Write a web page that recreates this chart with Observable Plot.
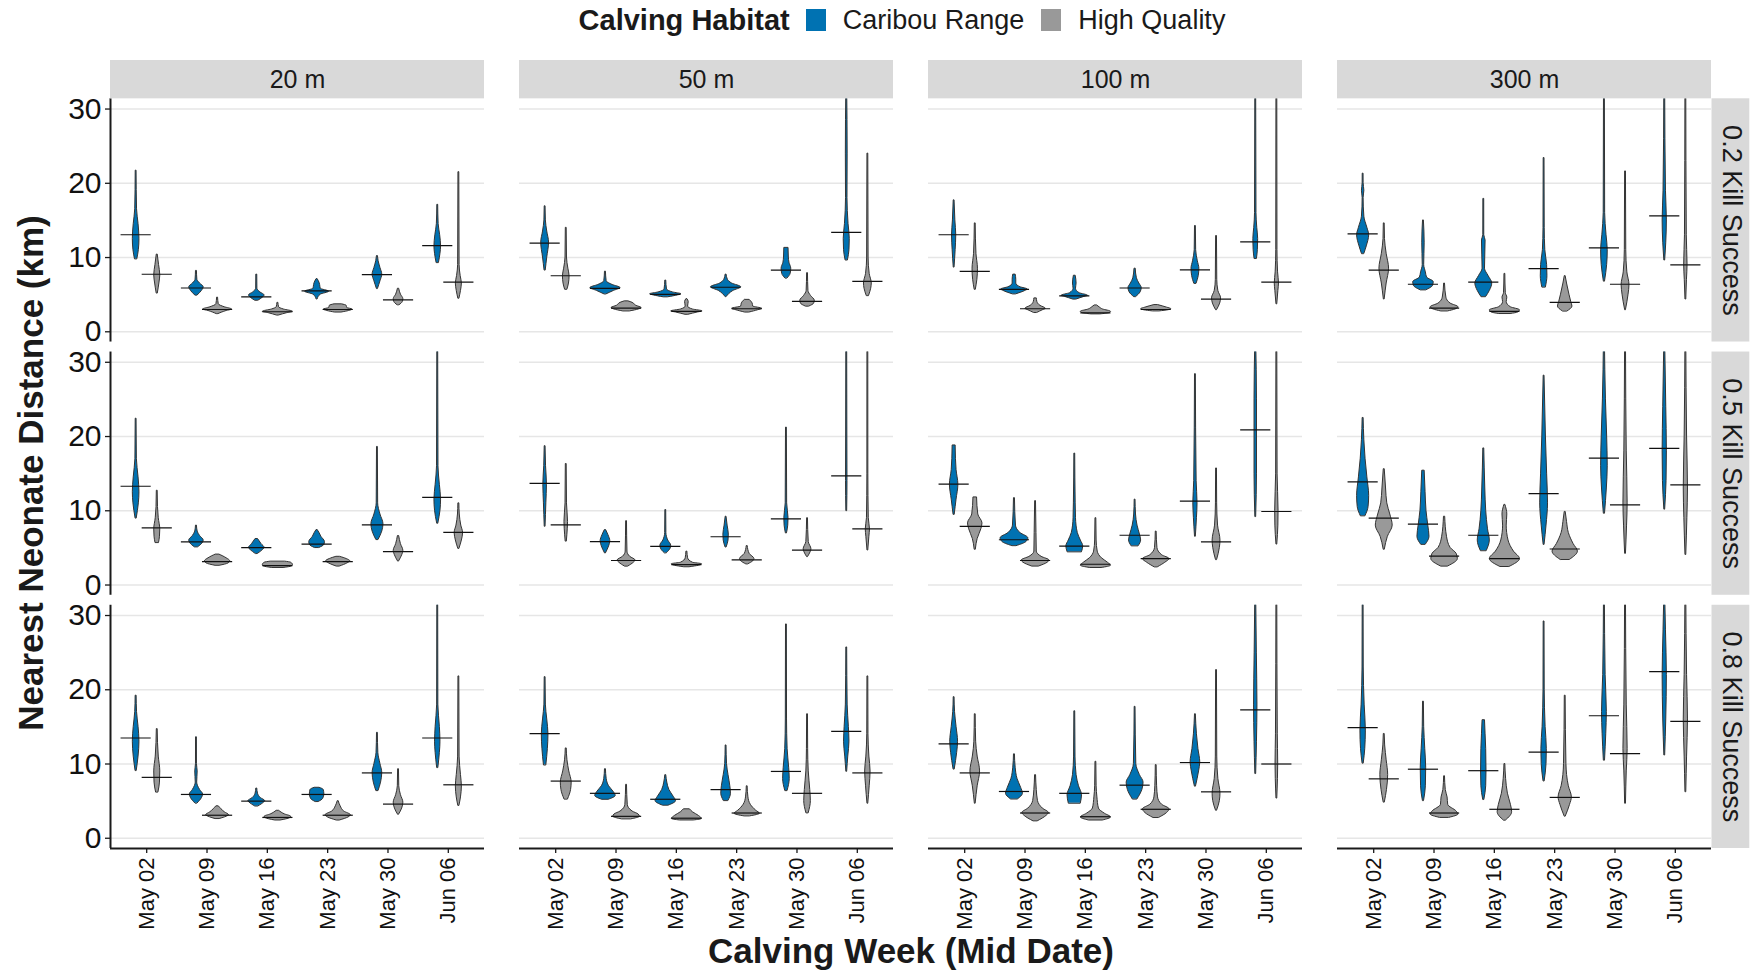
<!DOCTYPE html>
<html>
<head>
<meta charset="utf-8">
<script src="https://cdn.jsdelivr.net/npm/d3@7"></script>
<script src="https://cdn.jsdelivr.net/npm/@observablehq/plot@0.6"></script>
<style>
  body { margin: 0; background: #fff; }
  #wrap { position: relative; width: 1756px; height: 972px; background: #fff;
          font-family: "Liberation Sans", Arial, sans-serif; color: #1a1a1a; overflow: hidden; }
  #plot { position: absolute; left: 0; top: 0; }
  #legend { position: absolute; left: 110px; width: 1601px; top: 4px; height: 32px;
            display: flex; justify-content: center; align-items: center; }
  #legend .title { font-weight: bold; font-size: 29px; margin-right: 16px; }
  #legend .sw { width: 20px; height: 22px; margin-right: 17px; }
  #legend .lab { font-size: 27px; margin-right: 17px; }
  #ytitle { position: absolute; left: 31px; top: 473px; transform: translate(-50%, -50%) rotate(-90deg);
            white-space: nowrap; font-weight: bold; font-size: 35px; }
  #xtitle { position: absolute; left: 911px; top: 951px; transform: translate(-50%, -50%);
            white-space: nowrap; font-weight: bold; font-size: 35px; }
</style>
</head>
<body>
<div id="wrap">
  <div id="plot"></div>
  <div id="legend"></div>
  <div id="ytitle">Nearest Neonate Distance (km)</div>
  <div id="xtitle">Calving Week (Mid Date)</div>
</div>
<script>
// Facet categories and tick labels
const weeks = ["May 02", "May 09", "May 16", "May 23", "May 30", "Jun 06"];
const distances = ["20 m", "50 m", "100 m", "300 m"];
const kills = ["0.2 Kill Success", "0.5 Kill Success", "0.8 Kill Success"];
const habitats = ["Caribou Range", "High Quality"];
const habitatColors = ["#0072B2", "#999999"];

// Violins per distance: one row per kill-success level; each row lists the
// weeks in order, Caribou Range then High Quality.
// Each violin: [median km, [[km, half-width], ...] from bottom to top]
const v20 = [
  [
    [13.07, [[9.8,0.02],[11,0.045],[12.5,0.055],[14.5,0.04],[16.5,0.015],[21.7,0.007]]],
    [7.75, [[5.2,0.01],[6.5,0.035],[7.6,0.05],[9,0.03],[10.4,0.008]]],
    [5.9, [[4.9,0.02],[5.5,0.09],[6.0,0.12],[6.5,0.06],[7.0,0.015],[8.2,0.008]]],
    [3.0, [[2.4,0.02],[2.8,0.15],[3.0,0.24],[3.3,0.12],[3.7,0.02],[4.6,0.008]]],
    [4.7, [[4.2,0.03],[4.6,0.1],[4.9,0.13],[5.3,0.06],[5.8,0.01],[7.7,0.008]]],
    [2.7, [[2.2,0.02],[2.5,0.15],[2.7,0.25],[3.0,0.1],[3.3,0.02],[3.9,0.008]]],
    [5.5, [[4.4,0.01],[5.0,0.06],[5.4,0.2],[5.8,0.06],[6.3,0.05],[6.6,0.04],[7.1,0.008]]],
    [3.0, [[2.6,0.06],[2.8,0.18],[3.0,0.24],[3.2,0.15],[3.5,0.14],[3.7,0.06]]],
    [7.7, [[5.8,0.01],[6.8,0.05],[7.7,0.08],[8.6,0.05],[9.5,0.02],[10.2,0.008]]],
    [4.3, [[3.6,0.02],[4.0,0.07],[4.4,0.08],[5.0,0.04],[5.8,0.01]]],
    [11.6, [[9.3,0.02],[10.5,0.045],[11.5,0.055],[13,0.04],[14.5,0.015],[17.1,0.007]]],
    [6.7, [[4.5,0.01],[5.5,0.035],[6.5,0.05],[7.5,0.03],[9,0.012],[21.5,0.007]]]
  ],
  [
    [13.3, [[9.0,0.01],[11,0.045],[12.5,0.055],[14.5,0.04],[17,0.012],[22.4,0.007]]],
    [7.7, [[5.7,0.03],[6.5,0.045],[7.5,0.05],[9,0.025],[10.5,0.012],[12.7,0.007]]],
    [5.8, [[5.1,0.03],[5.6,0.1],[6.0,0.12],[6.6,0.06],[7.2,0.02],[8.0,0.008]]],
    [3.15, [[2.6,0.04],[2.9,0.18],[3.2,0.21],[3.6,0.15],[4.1,0.03]]],
    [5.05, [[4.2,0.02],[4.7,0.1],[5.0,0.13],[5.5,0.08],[6.2,0.02]]],
    [2.6, [[2.3,0.1],[2.5,0.23],[2.7,0.25],[3.0,0.22],[3.15,0.12]]],
    [5.5, [[5.0,0.04],[5.4,0.12],[5.8,0.13],[6.5,0.07],[7.0,0.04],[7.4,0.01]]],
    [3.15, [[2.5,0.03],[2.9,0.15],[3.2,0.2],[3.5,0.14],[3.8,0.03]]],
    [8.1, [[6.1,0.02],[7.2,0.08],[8.2,0.1],[9.5,0.05],[11,0.012],[18.6,0.007]]],
    [4.5, [[3.2,0.01],[4.0,0.06],[4.6,0.08],[5.5,0.04],[6.6,0.01]]],
    [11.8, [[8.3,0.01],[10,0.045],[11.5,0.055],[13.5,0.035],[16,0.012],[33,0.007]]],
    [7.1, [[4.9,0.01],[6,0.05],[7.0,0.07],[8,0.04],[9.5,0.015],[11.0,0.008]]]
  ],
  [
    [13.5, [[9.1,0.01],[11,0.04],[13,0.055],[15,0.04],[17,0.015],[19.2,0.008]]],
    [8.2, [[6.2,0.02],[7.5,0.045],[9,0.05],[11,0.025],[14.7,0.007]]],
    [5.9, [[4.7,0.02],[5.4,0.09],[5.9,0.11],[6.5,0.06],[7.5,0.012],[9,0.02],[10,0.008],[13.6,0.007]]],
    [3.1, [[2.6,0.04],[2.9,0.15],[3.1,0.19],[3.5,0.12],[4.3,0.02]]],
    [5.0, [[4.3,0.03],[4.8,0.12],[5.0,0.14],[5.4,0.07],[6.0,0.02],[6.7,0.008]]],
    [2.8, [[2.4,0.05],[2.7,0.2],[2.9,0.22],[3.2,0.12],[3.7,0.02]]],
    [5.9, [[4.9,0.03],[5.3,0.1],[5.9,0.12],[6.5,0.11],[6.8,0.04]]],
    [3.1, [[2.4,0.03],[2.8,0.17],[3.1,0.21],[3.6,0.1],[4.3,0.04],[5.0,0.008]]],
    [8.8, [[6.4,0.02],[7.5,0.06],[8.8,0.08],[10,0.05],[11.5,0.015],[14.2,0.007]]],
    [4.6, [[3.2,0.01],[4.0,0.06],[4.8,0.08],[5.8,0.04],[7,0.012],[9.3,0.007]]],
    [13.5, [[9.5,0.01],[11.5,0.035],[13,0.045],[15,0.035],[18,0.01],[33,0.007]]],
    [7.2, [[4.4,0.01],[5.5,0.035],[7,0.05],[8.5,0.035],[11,0.012],[21.8,0.007]]]
  ]
];

const v50 = [
  [
    [11.95, [[8.3,0.01],[10,0.035],[12,0.065],[13.5,0.035],[15,0.012],[16.9,0.007]]],
    [7.55, [[5.7,0.02],[6.5,0.045],[7.5,0.055],[8.5,0.035],[10,0.012],[14,0.007]]],
    [5.85, [[5.05,0.02],[5.5,0.14],[5.9,0.25],[6.3,0.12],[6.8,0.02],[8.1,0.008]]],
    [3.2, [[2.75,0.06],[3.0,0.2],[3.2,0.25],[3.5,0.16],[3.9,0.1],[4.1,0.03]]],
    [5.05, [[4.65,0.04],[4.9,0.2],[5.05,0.26],[5.3,0.12],[5.7,0.02],[6.9,0.008]]],
    [2.75, [[2.3,0.03],[2.6,0.18],[2.75,0.26],[3.0,0.1],[3.4,0.02],[4.0,0.03],[4.4,0.008]]],
    [6.0, [[4.7,0.01],[5.5,0.12],[6.0,0.25],[6.5,0.1],[7.0,0.03],[7.7,0.008]]],
    [3.1, [[2.6,0.04],[2.9,0.18],[3.1,0.25],[3.4,0.1],[3.8,0.09],[4.3,0.04]]],
    [8.3, [[7.2,0.02],[7.8,0.07],[8.5,0.08],[9.3,0.05],[10,0.04],[11.3,0.035]]],
    [4.1, [[3.4,0.03],[3.8,0.11],[4.2,0.12],[4.8,0.06],[5.5,0.015],[7.9,0.007]]],
    [13.4, [[9.65,0.02],[11,0.045],[12.5,0.05],[14.5,0.03],[18,0.012],[24,0.015],[33,0.007]]],
    [6.8, [[4.85,0.02],[5.8,0.055],[6.5,0.065],[7.8,0.03],[10,0.012],[24,0.007]]]
  ],
  [
    [13.7, [[7.9,0.007],[11,0.02],[13.5,0.03],[16,0.015],[18.7,0.007]]],
    [8.1, [[5.9,0.01],[7.5,0.025],[8.5,0.03],[11,0.012],[16.3,0.007]]],
    [5.85, [[4.3,0.01],[5.2,0.06],[5.9,0.08],[6.7,0.05],[7.4,0.01]]],
    [3.3, [[2.5,0.03],[3.0,0.12],[3.3,0.15],[3.8,0.06],[4.5,0.015],[8.6,0.007]]],
    [5.2, [[4.3,0.02],[4.9,0.08],[5.3,0.09],[6.0,0.04],[7.0,0.01],[10.1,0.007]]],
    [2.75, [[2.4,0.05],[2.6,0.2],[2.8,0.25],[3.0,0.1],[3.6,0.02],[4.5,0.008]]],
    [6.5, [[5.1,0.01],[6.0,0.04],[6.8,0.045],[8,0.025],[9.2,0.007]]],
    [3.4, [[2.8,0.02],[3.2,0.1],[3.5,0.12],[4.2,0.04],[5.25,0.008]]],
    [8.9, [[7.0,0.01],[8,0.03],[9,0.035],[11,0.012],[21.2,0.007]]],
    [4.7, [[3.8,0.01],[4.4,0.05],[4.8,0.065],[5.8,0.02],[9.0,0.007]]],
    [14.7, [[10,0.007],[14,0.012],[20,0.01],[33,0.007]]],
    [7.55, [[4.7,0.007],[6.5,0.025],[7.5,0.035],[9,0.015],[15,0.008],[33,0.007]]]
  ],
  [
    [14.1, [[9.85,0.02],[12,0.045],[14,0.055],[16,0.035],[18,0.012],[21.7,0.007]]],
    [7.7, [[5.25,0.03],[6.5,0.08],[7.5,0.09],[9,0.05],[10.5,0.02],[12.1,0.008]]],
    [6.05, [[5.2,0.06],[5.7,0.17],[6.2,0.14],[7.0,0.06],[8.0,0.02],[9.3,0.008]]],
    [2.95, [[2.55,0.08],[2.9,0.22],[3.2,0.2],[3.6,0.1],[4.5,0.02],[7.2,0.007]]],
    [5.25, [[4.4,0.05],[5.0,0.17],[5.6,0.13],[6.5,0.06],[7.5,0.025],[8.5,0.008]]],
    [2.7, [[2.4,0.12],[2.6,0.25],[3.0,0.2],[3.5,0.1],[3.9,0.05]]],
    [6.55, [[5.05,0.04],[6.0,0.08],[7,0.07],[8.5,0.04],[10,0.015],[12.5,0.007]]],
    [3.4, [[2.95,0.05],[3.3,0.21],[3.7,0.15],[4.5,0.06],[5.5,0.02],[7.0,0.007]]],
    [9.0, [[6.4,0.02],[8,0.055],[9.5,0.045],[12,0.02],[16,0.01],[28.8,0.007]]],
    [6.05, [[3.4,0.02],[5,0.055],[6.5,0.045],[9,0.02],[12,0.01],[16.7,0.007]]],
    [14.4, [[9.0,0.007],[11,0.025],[13,0.045],[15,0.035],[18,0.015],[25.7,0.007]]],
    [8.8, [[4.7,0.007],[7,0.03],[9,0.045],[11,0.025],[14,0.01],[21.8,0.007]]]
  ]
];

const v100 = [
  [
    [13.07, [[8.7,0.007],[11,0.025],[13,0.035],[15,0.02],[17.7,0.007]]],
    [8.15, [[5.7,0.01],[7,0.035],[8.5,0.045],[10.5,0.02],[14.6,0.007]]],
    [5.7, [[5.05,0.03],[5.5,0.18],[5.7,0.22],[6.0,0.1],[6.5,0.03],[7.0,0.03],[7.7,0.02]]],
    [3.1, [[2.55,0.03],[2.9,0.12],[3.1,0.17],[3.5,0.08],[4.0,0.03],[4.5,0.02]]],
    [4.85, [[4.35,0.03],[4.7,0.16],[4.85,0.22],[5.2,0.08],[5.8,0.02],[6.5,0.03],[7.55,0.015]]],
    [2.55, [[2.35,0.08],[2.5,0.22],[2.7,0.25],[3.0,0.12],[3.3,0.06],[3.55,0.02]]],
    [5.9, [[4.7,0.02],[5.3,0.09],[5.9,0.11],[6.5,0.07],[7.2,0.03],[8.5,0.01]]],
    [3.0, [[2.75,0.06],[2.9,0.2],[3.05,0.25],[3.25,0.18],[3.6,0.03]]],
    [8.35, [[6.5,0.02],[7.5,0.055],[8.5,0.065],[9.5,0.04],[11,0.012],[14.25,0.007]]],
    [4.4, [[2.95,0.01],[3.8,0.06],[4.5,0.075],[5.5,0.03],[7,0.012],[12.9,0.007]]],
    [12.1, [[9.85,0.02],[11,0.035],[12.5,0.04],[14,0.025],[16,0.012],[33,0.007]]],
    [6.7, [[3.75,0.007],[5.5,0.025],[6.5,0.035],[8,0.02],[11,0.01],[33,0.007]]]
  ],
  [
    [13.6, [[9.5,0.01],[11.5,0.04],[13.5,0.07],[15.5,0.04],[17,0.03],[18.8,0.025]]],
    [7.9, [[4.8,0.01],[6.2,0.04],[7.5,0.1],[8.3,0.12],[9.5,0.05],[11.8,0.03]]],
    [6.1, [[5.25,0.04],[5.8,0.2],[6.3,0.23],[7.0,0.1],[8,0.025],[11.7,0.008]]],
    [3.3, [[2.5,0.06],[3.0,0.2],[3.3,0.23],[3.8,0.1],[4.5,0.02],[7,0.015],[11.3,0.007]]],
    [5.25, [[4.45,0.12],[5.2,0.14],[6,0.1],[7,0.05],[9,0.02],[11,0.015],[17.7,0.007]]],
    [2.8, [[2.3,0.1],[2.6,0.25],[3.0,0.2],[3.6,0.1],[4.5,0.03],[6,0.012],[9.0,0.007]]],
    [6.7, [[5.25,0.06],[6.0,0.1],[6.8,0.08],[8,0.04],[9.5,0.015],[11.5,0.007]]],
    [3.55, [[2.4,0.03],[3.0,0.15],[3.5,0.22],[4.0,0.1],[5,0.02],[7.2,0.007]]],
    [11.3, [[6.55,0.007],[9,0.025],[11,0.035],[14,0.02],[28.4,0.007]]],
    [5.8, [[3.4,0.01],[5,0.055],[6,0.065],[8,0.025],[11,0.01],[15.7,0.007]]],
    [20.9, [[9.2,0.007],[15,0.02],[25,0.02],[33,0.007]]],
    [9.9, [[5.5,0.007],[8,0.025],[10,0.028],[15,0.012],[33,0.007]]]
  ],
  [
    [12.7, [[9.3,0.01],[11.5,0.05],[13,0.065],[15,0.04],[17,0.015],[19.0,0.007]]],
    [8.8, [[4.7,0.007],[7,0.04],[9,0.08],[11,0.04],[13,0.015],[16.7,0.007]]],
    [6.3, [[5.25,0.06],[6,0.14],[6.8,0.11],[8,0.05],[9.5,0.02],[11.3,0.008]]],
    [3.4, [[2.3,0.04],[3.0,0.18],[3.4,0.22],[4.0,0.12],[5,0.04],[6.5,0.02],[8.5,0.008]]],
    [6.05, [[4.7,0.1],[5.8,0.12],[7,0.07],[8.5,0.03],[11,0.012],[17.1,0.007]]],
    [2.9, [[2.4,0.12],[2.8,0.25],[3.3,0.15],[4,0.05],[5.5,0.025],[7,0.012],[10.3,0.007]]],
    [7.15, [[5.25,0.04],[6.5,0.12],[7.5,0.14],[8.5,0.08],[10,0.02],[17.7,0.007]]],
    [3.9, [[2.75,0.05],[3.4,0.18],[3.9,0.22],[4.5,0.1],[5.5,0.03],[7,0.015],[9.85,0.007]]],
    [10.2, [[7.0,0.01],[9,0.06],[10.2,0.08],[12,0.05],[14,0.025],[16.7,0.007]]],
    [6.25, [[3.75,0.01],[5,0.055],[6,0.065],[8,0.03],[11,0.012],[22.65,0.007]]],
    [17.3, [[8.7,0.007],[13,0.02],[18,0.028],[25,0.018],[33,0.007]]],
    [10.0, [[5.4,0.007],[8,0.018],[10,0.022],[14,0.015],[33,0.007]]]
  ]
];

const v300 = [
  [
    [13.2, [[10.5,0.02],[11.5,0.06],[13,0.1],[14,0.07],[15.5,0.02],[18,0.008],[19,0.02],[20,0.008],[21.3,0.007]]],
    [8.3, [[4.4,0.007],[6.5,0.04],[8.5,0.08],[10.5,0.04],[12.5,0.012],[14.6,0.007]]],
    [6.4, [[5.6,0.05],[6.2,0.16],[6.7,0.17],[7.3,0.06],[8,0.04],[9,0.012],[12,0.02],[15,0.007]]],
    [3.2, [[2.75,0.06],[3.0,0.18],[3.3,0.23],[3.8,0.1],[4.6,0.03],[6.5,0.007]]],
    [6.7, [[4.7,0.04],[5.5,0.1],[6.5,0.14],[7.5,0.08],[8.5,0.02],[12.3,0.03],[13,0.008],[17.9,0.007]]],
    [2.75, [[2.4,0.1],[2.6,0.22],[2.9,0.25],[3.3,0.1],[4.0,0.03],[4.6,0.04],[5.2,0.015],[7.8,0.007]]],
    [8.5, [[6.0,0.03],[7.5,0.055],[9,0.05],[11,0.02],[14,0.01],[23.4,0.007]]],
    [3.95, [[2.75,0.04],[3.4,0.12],[4.0,0.1],[5,0.07],[6.5,0.03],[7.5,0.007]]],
    [11.3, [[6.8,0.01],[9,0.045],[11,0.055],[13,0.035],[16,0.012],[33,0.007]]],
    [6.4, [[2.95,0.007],[5,0.05],[6.3,0.065],[8,0.03],[11,0.012],[21.6,0.007]]],
    [15.6, [[9.65,0.007],[12,0.025],[15,0.035],[19,0.02],[33,0.007]]],
    [9.0, [[4.4,0.007],[7,0.018],[9,0.028],[13,0.015],[33,0.007]]]
  ],
  [
    [13.9, [[9.3,0.04],[10.5,0.09],[12,0.1],[14.5,0.07],[17,0.04],[19.5,0.02],[22.5,0.008]]],
    [9.0, [[4.8,0.01],[6.5,0.06],[8,0.14],[9.5,0.1],[11,0.05],[13,0.03],[15.6,0.008]]],
    [8.2, [[5.45,0.04],[6.5,0.1],[8,0.08],[10,0.05],[12.5,0.035],[15.4,0.02]]],
    [3.9, [[2.5,0.06],[3.5,0.22],[4.2,0.2],[5,0.1],[6.5,0.04],[9.2,0.01]]],
    [6.7, [[4.6,0.05],[6,0.1],[7.5,0.07],[10,0.04],[13,0.025],[18.4,0.008]]],
    [3.55, [[2.45,0.08],[3.5,0.25],[4.5,0.15],[6,0.06],[8,0.03],[9.5,0.04],[10.8,0.008]]],
    [12.3, [[5.45,0.008],[8,0.04],[11,0.065],[15,0.05],[20,0.03],[28.2,0.007]]],
    [4.85, [[3.4,0.08],[4.5,0.21],[5.5,0.14],[7,0.06],[8.5,0.03],[9.85,0.008]]],
    [17.1, [[9.65,0.01],[13,0.04],[16,0.055],[20,0.045],[25,0.025],[33,0.008]]],
    [10.8, [[4.25,0.007],[8,0.025],[11,0.035],[18,0.02],[25,0.012],[33,0.007]]],
    [18.4, [[10.2,0.007],[14,0.03],[18,0.035],[24,0.025],[33,0.007]]],
    [13.5, [[4.1,0.007],[9,0.025],[13,0.035],[20,0.02],[33,0.007]]]
  ],
  [
    [14.9, [[10.1,0.01],[12,0.035],[14.5,0.045],[18,0.025],[23,0.01],[33,0.007]]],
    [8.0, [[4.85,0.01],[6.5,0.045],[8.5,0.065],[10.5,0.04],[12.5,0.015],[14.05,0.007]]],
    [9.3, [[5.05,0.01],[7,0.04],[9.5,0.045],[12,0.03],[15,0.012],[18.4,0.007]]],
    [3.4, [[2.75,0.08],[3.2,0.23],[3.6,0.2],[4.5,0.06],[5.5,0.05],[6.5,0.02],[8.35,0.007]]],
    [9.1, [[5.2,0.01],[7,0.04],[9,0.045],[12,0.04],[14,0.03],[15.9,0.02]]],
    [3.9, [[2.4,0.02],[3.5,0.12],[4.5,0.1],[6,0.05],[8,0.02],[10,0.007]]],
    [11.6, [[7.7,0.01],[10,0.04],[12,0.045],[15,0.025],[20,0.01],[29.2,0.007]]],
    [5.5, [[2.95,0.01],[4.5,0.08],[5.5,0.11],[7,0.06],[10,0.02],[19.2,0.007]]],
    [16.5, [[10.5,0.01],[14,0.03],[17,0.04],[22,0.02],[33,0.007]]],
    [11.4, [[4.7,0.007],[9,0.02],[12,0.035],[18,0.02],[33,0.007]]],
    [22.45, [[11.2,0.007],[16,0.025],[22,0.035],[28,0.02],[33,0.007]]],
    [15.75, [[6.25,0.007],[11,0.02],[16,0.035],[22,0.02],[33,0.007]]]
  ]
];

const panels = [v20, v50, v100, v300];

// Layout of the facet grid
const W = 1756, H = 972;
const panelW = 374, panelH = 243.2, stripSize = 38.3;
const xDomain = [0.4, 6.6];
const yDomain = [-1.38, 31.38];
const dodge = 0.175;       // offset of each habitat from the week position
const medianHalf = 0.25;   // half-length of the median bar

// Flatten violin outlines and medians into tidy rows
const outline = [];
const medians = [];
panels.forEach((panel, di) => {
  panel.forEach((row, ki) => {
    row.forEach(([med, profile], j) => {
      const week = Math.floor(j / 2);
      const hab = j % 2;
      const cx = week + 1 + (hab ? dodge : -dodge);
      const id = `${di}-${ki}-${j}`;
      for (const [y, w] of profile) {
        outline.push({dist: distances[di], kill: kills[ki], id, habitat: habitats[hab], y, x1: cx - w, x2: cx + w});
      }
      medians.push({dist: distances[di], kill: kills[ki], habitat: habitats[hab], y: med, x1: cx - medianHalf, x2: cx + medianHalf});
    });
  });
});

const lastDist = distances[distances.length - 1];

const chart = Plot.plot({
  width: W,
  height: H,
  marginLeft: 110,
  marginRight: 45,
  marginTop: 98.3,
  marginBottom: 124,
  style: {fontFamily: "'Liberation Sans', Arial, sans-serif", color: "#1a1a1a", background: "white", overflow: "visible"},
  fx: {domain: distances, paddingInner: 35 / 409, paddingOuter: 0, axis: null, round: false},
  fy: {domain: kills, paddingInner: 10 / 253.2, paddingOuter: 0, axis: null, round: false},
  x: {domain: xDomain, axis: null},
  y: {domain: yDomain, axis: null},
  color: {domain: habitats, range: habitatColors},
  marks: [
    // horizontal grid
    Plot.gridY([0, 10, 20, 30], {stroke: "#e6e6e6", strokeOpacity: 1, strokeWidth: 1.6}),
    // violins
    Plot.areaX(outline, {
      fx: "dist", fy: "kill", z: "id", y: "y", x1: "x1", x2: "x2",
      fill: "habitat", stroke: "#333333", strokeWidth: 1, curve: "monotone-y", clip: true
    }),
    // medians
    Plot.ruleY(medians, {fx: "dist", fy: "kill", y: "y", x1: "x1", x2: "x2", stroke: "#111", strokeWidth: 1.2, clip: true}),
    // axis lines on outer panels
    Plot.ruleX([xDomain[0]], {facetAnchor: "left", stroke: "#1a1a1a", strokeWidth: 2}),
    Plot.ruleY([yDomain[0]], {facetAnchor: "bottom", stroke: "#1a1a1a", strokeWidth: 2}),
    Plot.axisY({
      ticks: [0, 10, 20, 30], facetAnchor: "left", label: null,
      fontSize: 30, tickSize: 5, tickPadding: 4, stroke: "#1a1a1a", strokeWidth: 1.3, fill: "#111"
    }),
    Plot.axisX({
      ticks: [1, 2, 3, 4, 5, 6], tickFormat: (d) => weeks[d - 1], facetAnchor: "bottom", label: null,
      tickRotate: -90, fontSize: 22, tickSize: 5, tickPadding: 4, stroke: "#1a1a1a", strokeWidth: 1.3, fill: "#111"
    }),
    // column strips
    Plot.rect(distances, {
      fx: (d) => d, fy: () => kills[0], fill: "#d9d9d9",
      insetTop: -stripSize, insetBottom: panelH
    }),
    Plot.text(distances, {
      fx: (d) => d, fy: () => kills[0], text: (d) => d, frameAnchor: "top",
      lineAnchor: "middle", textAnchor: "middle",
      dy: -stripSize / 2, fontSize: 25, fill: "#1a1a1a"
    }),
    // row strips
    Plot.rect(kills, {
      fy: (d) => d, fx: () => lastDist, fill: "#d9d9d9",
      insetLeft: panelW + 0.5, insetRight: -stripSize
    }),
    Plot.text(kills, {
      fy: (d) => d, fx: () => lastDist, text: (d) => d, frameAnchor: "right",
      textAnchor: "middle", lineAnchor: "middle",
      dx: stripSize / 2 + 0.5, rotate: 90, fontSize: 27, fill: "#1a1a1a"
    })
  ]
});
document.getElementById("plot").appendChild(chart);

// Habitat legend
const legend = document.getElementById("legend");
const title = document.createElement("span");
title.className = "title";
title.textContent = "Calving Habitat";
legend.appendChild(title);
habitats.forEach((h, i) => {
  const sw = document.createElement("span");
  sw.className = "sw";
  sw.style.background = habitatColors[i];
  legend.appendChild(sw);
  const lab = document.createElement("span");
  lab.className = "lab";
  lab.textContent = h;
  legend.appendChild(lab);
});
</script>
</body>
</html>
